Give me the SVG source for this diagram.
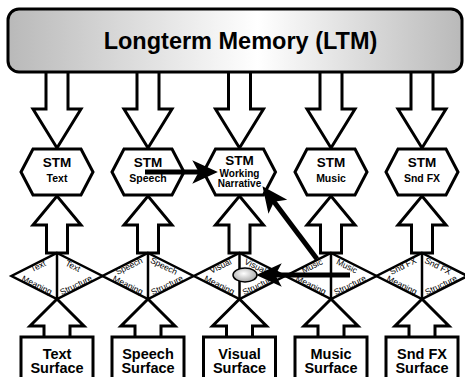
<svg xmlns="http://www.w3.org/2000/svg" xmlns:xlink="http://www.w3.org/1999/xlink" width="465" height="377" viewBox="0 0 465 377">
  <style>
    .shape { fill: #fff; stroke: #000; stroke-width: 3; stroke-linejoin: miter; }
    .dia { fill: #fff; stroke: #000; stroke-width: 2.5; stroke-linejoin: miter; }
    .divider { stroke: #000; stroke-width: 2.5; }
    .bold { font-family: "Liberation Sans", Arial, sans-serif; font-weight: bold; fill: #000; text-anchor: middle; }
    .title { font-size: 23.5px; }
    .stm { font-size: 13.5px; }
    .sub { font-size: 10.5px; }
    .tight { font-size: 10px; }
    .surf { font-size: 14.5px; }
    .lab { font-family: "Liberation Sans", Arial, sans-serif; font-size: 8.5px; fill: #000; text-anchor: middle; dominant-baseline: central; }
    .link { stroke: #000; stroke-width: 5; fill: none; marker-end: url(#head); }
  </style>
  <defs>
    <linearGradient id="ltmFill" x1="0" y1="0" x2="1" y2="0">
      <stop offset="0" stop-color="#b9b9b9"/>
      <stop offset="0.55" stop-color="#ffffff"/>
      <stop offset="1" stop-color="#b9b9b9"/>
    </linearGradient>
    <radialGradient id="ovalFill" cx="0.45" cy="0.4" r="0.6">
      <stop offset="0" stop-color="#ffffff"/>
      <stop offset="1" stop-color="#a8a8a8"/>
    </radialGradient>
    <marker id="head" markerUnits="userSpaceOnUse" markerWidth="32" markerHeight="28" viewBox="-2 -13 30 26" refX="11" refY="0" orient="auto">
      <path d="M0,-11 L24,0 L0,11 L6,0 Z" fill="#000"/>
    </marker>
    <!-- shared shapes, drawn around x = 0 -->
    <polygon id="downArrow" class="shape" points="-11,68 11,68 11,109 24,109 0,148 -24,109 -11,109"/>
    <polygon id="hex" class="shape" points="-36,172 -24,149 24,149 36,172 24,195 -24,195"/>
    <polygon id="upArrow" class="shape" points="-10.5,253 10.5,253 10.5,225 24,225 0,196 -24,225 -10.5,225"/>
    <g id="diamond">
      <polygon class="dia" points="0,253 45.5,276 0,299 -45.5,276"/>
      <line class="divider" x1="0" y1="253" x2="0" y2="299"/>
    </g>
    <polygon id="inArrow" class="shape" points="-13,340 13,340 13,326 27,326 0,299 -27,326 -13,326"/>
    <rect id="surfBox" class="shape" x="-36" y="337" width="72" height="50"/>
  </defs>

  <!-- arrows from long-term memory down to each short-term store -->
  <g id="ltm-arrows">
    <use xlink:href="#downArrow" transform="translate(57,0)"/>
    <use xlink:href="#downArrow" transform="translate(148,0)"/>
    <use xlink:href="#downArrow" transform="translate(239.5,0)"/>
    <use xlink:href="#downArrow" transform="translate(331,0)"/>
    <use xlink:href="#downArrow" transform="translate(422,0)"/>
  </g>

  <g id="ltm">
    <rect x="8" y="9" width="454" height="63" rx="11" ry="11" fill="url(#ltmFill)" stroke="#000" stroke-width="3"/>
    <text class="bold title" x="240.5" y="49">Longterm Memory (LTM)</text>
  </g>

  <!-- short-term stores -->
  <g id="stm-text" transform="translate(57,0)">
    <use xlink:href="#hex"/>
    <text class="bold stm" x="0" y="167">STM</text>
    <text class="bold sub" x="0" y="182">Text</text>
  </g>
  <g id="stm-speech" transform="translate(148,0)">
    <use xlink:href="#hex"/>
    <text class="bold stm" x="0" y="167">STM</text>
    <text class="bold sub" x="0" y="182">Speech</text>
  </g>
  <g id="stm-working" transform="translate(239.5,0)">
    <use xlink:href="#hex"/>
    <text class="bold stm" x="0" y="165">STM</text>
    <text class="bold tight" x="0" y="176.5">Working</text>
    <text class="bold tight" x="0" y="186.5">Narrative</text>
  </g>
  <g id="stm-music" transform="translate(331,0)">
    <use xlink:href="#hex"/>
    <text class="bold stm" x="0" y="167">STM</text>
    <text class="bold sub" x="0" y="182">Music</text>
  </g>
  <g id="stm-sndfx" transform="translate(422,0)">
    <use xlink:href="#hex"/>
    <text class="bold stm" x="0" y="167">STM</text>
    <text class="bold sub" x="0" y="182">Snd FX</text>
  </g>

  <!-- arrows from each analysis diamond up to its store -->
  <g id="stm-arrows">
    <use xlink:href="#upArrow" transform="translate(57,0)"/>
    <use xlink:href="#upArrow" transform="translate(148,0)"/>
    <use xlink:href="#upArrow" transform="translate(239.5,0)"/>
    <use xlink:href="#upArrow" transform="translate(331,0)"/>
    <use xlink:href="#upArrow" transform="translate(422,0)"/>
  </g>

  <!-- arrows from each surface up to its analysis diamond -->
  <g id="surface-arrows">
    <use xlink:href="#inArrow" transform="translate(57,0)"/>
    <use xlink:href="#inArrow" transform="translate(148,0)"/>
    <use xlink:href="#inArrow" transform="translate(239.5,0)"/>
    <use xlink:href="#inArrow" transform="translate(331,0)"/>
    <use xlink:href="#inArrow" transform="translate(422,0)"/>
  </g>

  <!-- meaning / structure diamonds -->
  <g id="dia-text" transform="translate(57,0)">
    <use xlink:href="#diamond"/>
    <text class="lab" transform="translate(-19,266) rotate(-26.3)">Text</text>
    <text class="lab" transform="translate(-20,285) rotate(26.3)">Meaning</text>
    <text class="lab" transform="translate(16,266) rotate(26.3)">Text</text>
    <text class="lab" transform="translate(19,285) rotate(-26.3)">Structure</text>
  </g>
  <g id="dia-speech" transform="translate(148,0)">
    <use xlink:href="#diamond"/>
    <text class="lab" transform="translate(-19,266) rotate(-26.3)">Speech</text>
    <text class="lab" transform="translate(-20,285) rotate(26.3)">Meaning</text>
    <text class="lab" transform="translate(16,266) rotate(26.3)">Speech</text>
    <text class="lab" transform="translate(19,285) rotate(-26.3)">Structure</text>
  </g>
  <g id="dia-visual" transform="translate(239.5,0)">
    <use xlink:href="#diamond"/>
    <text class="lab" transform="translate(-19,266) rotate(-26.3)">Visual</text>
    <text class="lab" transform="translate(-20,285) rotate(26.3)">Meaning</text>
    <text class="lab" transform="translate(16,266) rotate(26.3)">Visual</text>
    <text class="lab" transform="translate(19,285) rotate(-26.3)">Structure</text>
    <ellipse cx="5.5" cy="275" rx="12" ry="7" fill="url(#ovalFill)" stroke="#000" stroke-width="1.5"/>
  </g>
  <g id="dia-music" transform="translate(331,0)">
    <use xlink:href="#diamond"/>
    <text class="lab" transform="translate(-19,266) rotate(-26.3)">Music</text>
    <text class="lab" transform="translate(-20,285) rotate(26.3)">Meaning</text>
    <text class="lab" transform="translate(16,266) rotate(26.3)">Music</text>
    <text class="lab" transform="translate(19,285) rotate(-26.3)">Structure</text>
  </g>
  <g id="dia-sndfx" transform="translate(422,0)">
    <use xlink:href="#diamond"/>
    <text class="lab" transform="translate(-19,266) rotate(-26.3)">Snd FX</text>
    <text class="lab" transform="translate(-20,285) rotate(26.3)">Meaning</text>
    <text class="lab" transform="translate(16,266) rotate(26.3)">Snd FX</text>
    <text class="lab" transform="translate(19,285) rotate(-26.3)">Structure</text>
  </g>

  <!-- surfaces -->
  <g id="surf-text" transform="translate(57,0)">
    <use xlink:href="#surfBox"/>
    <text class="bold surf" x="0" y="358.5">Text</text>
    <text class="bold surf" x="0" y="373">Surface</text>
  </g>
  <g id="surf-speech" transform="translate(148,0)">
    <use xlink:href="#surfBox"/>
    <text class="bold surf" x="0" y="358.5">Speech</text>
    <text class="bold surf" x="0" y="373">Surface</text>
  </g>
  <g id="surf-visual" transform="translate(239.5,0)">
    <use xlink:href="#surfBox"/>
    <text class="bold surf" x="0" y="358.5">Visual</text>
    <text class="bold surf" x="0" y="373">Surface</text>
  </g>
  <g id="surf-music" transform="translate(331,0)">
    <use xlink:href="#surfBox"/>
    <text class="bold surf" x="0" y="358.5">Music</text>
    <text class="bold surf" x="0" y="373">Surface</text>
  </g>
  <g id="surf-sndfx" transform="translate(422,0)">
    <use xlink:href="#surfBox"/>
    <text class="bold surf" x="0" y="358.5">Snd FX</text>
    <text class="bold surf" x="0" y="373">Surface</text>
  </g>

  <!-- cross-modal connectors -->
  <g id="connectors">
    <line class="link" x1="145" y1="172" x2="204" y2="172"/>
    <line class="link" x1="317" y1="259" x2="270.8" y2="197.4"/>
    <line class="link" x1="350" y1="275" x2="270" y2="275"/>
  </g>
</svg>
